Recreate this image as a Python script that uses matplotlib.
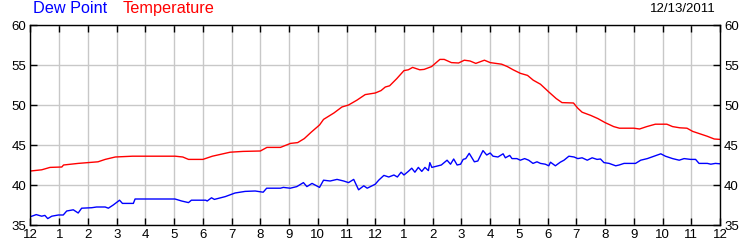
import matplotlib
matplotlib.use("Agg")
import matplotlib.pyplot as plt

# Hours since midnight 12/13/2011
temp_hours = [0, 0.39, 0.68, 1.09, 1.15, 1.66, 2.35, 2.6, 2.95, 3.55, 5.04, 5.3, 5.5, 6.0,
              6.33, 6.95, 7.4, 8.0, 8.23, 8.7, 9.05, 9.3, 9.53, 9.77, 10.06, 10.2, 10.56,
              10.84, 11.07, 11.36, 11.65, 12.0, 12.2, 12.35, 12.5, 12.75, 13.0, 13.15, 13.3,
              13.55, 13.7, 13.96, 14.25, 14.4, 14.65, 14.9, 15.1, 15.3, 15.5, 15.8, 16.0,
              16.4, 16.6, 16.8, 17.05, 17.3, 17.5, 17.75, 18.05, 18.3, 18.5, 18.9, 19.05,
              19.2, 19.5, 19.75, 20.0, 20.3, 20.5, 21.0, 21.2, 21.45, 21.75, 22.15, 22.35,
              22.6, 22.85, 23.05, 23.3, 23.55, 23.8, 24.0]
temperature = [41.75, 41.9, 42.2, 42.25, 42.5, 42.7, 42.9, 43.2, 43.5, 43.6, 43.6, 43.5, 43.2, 43.2,
               43.6, 44.1, 44.2, 44.25, 44.7, 44.7, 45.2, 45.3, 45.8, 46.6, 47.5, 48.2, 49.0,
               49.75, 50.0, 50.6, 51.3, 51.5, 51.8, 52.25, 52.4, 53.3, 54.3, 54.4, 54.7,
               54.4, 54.45, 54.8, 55.7, 55.7, 55.3, 55.25, 55.6, 55.5, 55.2, 55.6, 55.3,
               55.1, 54.8, 54.4, 53.96, 53.7, 53.1, 52.6, 51.6, 50.8, 50.3, 50.25, 49.6,
               49.1, 48.7, 48.3, 47.8, 47.3, 47.1, 47.1, 47.0, 47.3, 47.6, 47.6, 47.3,
               47.15, 47.1, 46.7, 46.4, 46.1, 45.75, 45.7]

dew_hours = [0, 0.2, 0.39, 0.5, 0.6, 0.74, 0.97, 1.14, 1.26, 1.49, 1.66, 1.78, 2.13, 2.3, 2.6,
             2.71, 2.88, 3.1, 3.2, 3.58, 3.64, 5.03, 5.26, 5.5, 5.6, 5.85, 6.1, 6.15, 6.3, 6.4,
             6.78, 7.12, 7.47, 7.82, 8.1, 8.22, 8.5, 8.7, 8.8, 9.04, 9.27, 9.5, 9.62, 9.8,
             10.06, 10.2, 10.43, 10.67, 10.9, 11.07, 11.25, 11.42, 11.6, 11.72, 12.0, 12.12,
             12.3, 12.47, 12.65, 12.77, 12.9, 13.0, 13.15, 13.27, 13.38, 13.5, 13.62, 13.73,
             13.85, 13.9, 13.97, 14.3, 14.5, 14.62, 14.73, 14.85, 14.97, 15.06, 15.15, 15.27,
             15.45, 15.57, 15.75, 15.88, 16.0, 16.1, 16.27, 16.45, 16.53, 16.68, 16.76, 16.93,
             17.05, 17.2, 17.34, 17.49, 17.63, 17.75, 17.92, 18.04, 18.1, 18.27, 18.44, 18.57,
             18.74, 18.92, 19.05, 19.2, 19.38, 19.55, 19.72, 19.84, 19.96, 20.14, 20.37, 20.49,
             20.66, 21.06, 21.24, 21.47, 21.7, 21.94, 22.1, 22.35, 22.58, 22.75, 22.98, 23.15,
             23.27, 23.56, 23.68, 23.84, 24.0]
dew_point = [36.04, 36.3, 36.1, 36.2, 35.8, 36.1, 36.25, 36.25, 36.75, 36.9, 36.5, 37.1, 37.16, 37.25, 37.25,
             37.1, 37.5, 38.1, 37.7, 37.7, 38.25, 38.25, 38.0, 37.8, 38.1, 38.1, 38.1, 38.0, 38.4, 38.2,
             38.55, 39.0, 39.2, 39.25, 39.1, 39.6, 39.6, 39.6, 39.7, 39.6, 39.8, 40.3, 39.8, 40.2,
             39.7, 40.6, 40.5, 40.7, 40.5, 40.3, 40.7, 39.4, 39.9, 39.6, 40.1, 40.6,
             41.2, 41.0, 41.25, 41.0, 41.6, 41.25, 41.7, 42.1, 41.6, 42.2, 41.7, 42.2,
             41.8, 42.8, 42.2, 42.5, 43.1, 42.6, 43.25, 42.5, 42.6, 43.2, 43.3, 43.96,
             42.9, 43.0, 44.3, 43.75, 44.0, 43.6, 43.5, 43.9, 43.4, 43.7, 43.3, 43.3,
             43.1, 43.3, 43.1, 42.7, 42.9, 42.7, 42.6, 42.4, 42.85, 42.4, 42.85, 43.1,
             43.6, 43.5, 43.3, 43.4, 43.1, 43.4, 43.2, 43.25, 42.8, 42.7, 42.4, 42.5,
             42.7, 42.7, 43.1, 43.3, 43.6, 43.9, 43.6, 43.3, 43.1, 43.3, 43.2, 43.2,
             42.7, 42.7, 42.6, 42.7, 42.65]

x_ticks = list(range(0, 25))
x_tick_labels = ["12", "1", "2", "3", "4", "5", "6", "7", "8", "9", "10", "11",
                 "12", "1", "2", "3", "4", "5", "6", "7", "8", "9", "10", "11", "12"]
y_ticks = [35, 40, 45, 50, 55, 60]
date_label = "12/13/2011"

plt.rcParams['font.family'] = ['Liberation Sans', 'DejaVu Sans']

fig = plt.figure(figsize=(7.5, 2.5), dpi=100)
ax = fig.add_axes([30.5 / 750, 25 / 250, 689.5 / 750, 200 / 250])

ax.plot(temp_hours, temperature, color='#ff0000', lw=1.0)
ax.plot(dew_hours, dew_point, color='#0000ff', lw=1.0)

ax.set_xlim(0, 24)
ax.set_ylim(35, 60)
ax.set_xticks(x_ticks)
ax.set_xticklabels(x_tick_labels)
ax.set_yticks(y_ticks)
ax.grid(True, color='#c8c8c8', lw=1.0)
ax.set_axisbelow(True)
ax.tick_params(direction='in', length=5, width=1, color='black',
               top=True, right=True, labelright=True, labelsize=9.5, pad=3)
for s in ax.spines.values():
    s.set_color('black')
    s.set_linewidth(1.0)

fig.text(33 / 750, 1 - 1 / 250, "Dew Point", color='#0000ff', fontsize=11.7, va='top', ha='left')
fig.text(123 / 750, 1 - 1 / 250, "Temperature", color='#ff0000', fontsize=11.7, va='top', ha='left')
fig.text(716 / 750, 1 - 3 / 250, date_label, color='black', fontsize=9.5, va='top', ha='right')

fig.savefig("out.png", dpi=100)
